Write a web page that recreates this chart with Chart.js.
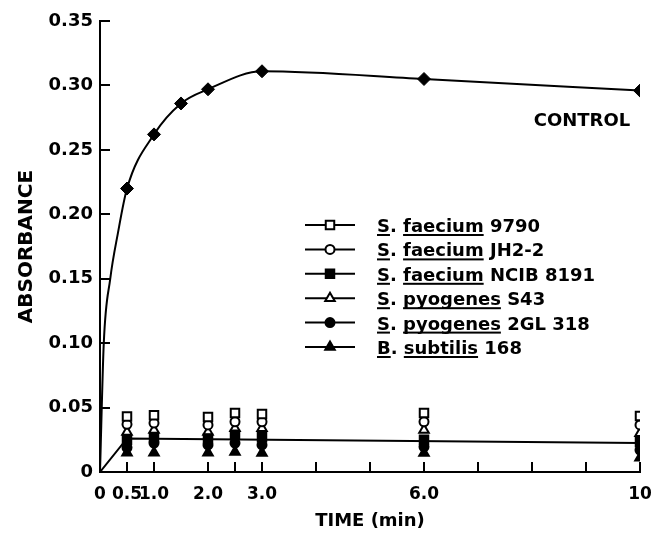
<!DOCTYPE html>
<html>
<head>
<meta charset="utf-8">
<script src="https://cdn.jsdelivr.net/npm/chart.js@4"></script>
<style>
  body { margin: 0; background: #fff; }
  canvas { display: block; }
</style>
</head>
<body>
<canvas id="chart" width="651" height="533"></canvas>
<script>
// control: measured points (diamonds)
const controlT = [0.5, 1.0, 1.5, 2.0, 3.0, 6.0, 10];
const controlA = [0.220, 0.262, 0.286, 0.297, 0.311, 0.305, 0.296];
// control fitted curve
const curveT = [0, 0.07, 0.19, 0.33, 0.5, 1.0, 1.5, 2.0, 3.0, 6.0, 10];
const curveA = [0, 0.100, 0.150, 0.185, 0.220, 0.262, 0.286, 0.297, 0.311, 0.305, 0.296];

// common line through the low group
const lowLineT = [0, 0.5, 10];
const lowLineA = [0, 0.026, 0.0225];

// sampling times of the strains
const strainT = [0.5, 1.0, 2.0, 2.5, 3.0, 6.0, 10];
const faecium9790 = [0.043, 0.044, 0.0427, 0.0458, 0.045, 0.0458, 0.0435];
const faeciumJH22 = [0.037, 0.038, 0.0365, 0.039, 0.039, 0.039, 0.0365];
const pyogenesS43 = [0.031, 0.0326, 0.031, 0.034, 0.034, 0.0326, 0.030];
const faeciumNCIB = [0.025, 0.027, 0.026, 0.029, 0.027, 0.025, 0.023];
const pyogenes2GL = [0.019, 0.0225, 0.021, 0.0225, 0.021, 0.0196, 0.017];
const subtilis168 = [0.015, 0.015, 0.015, 0.0155, 0.0147, 0.0147, 0.011];

// axis ticks
const xTickVals = [0, 0.5, 1, 2, 2.5, 3, 4, 5, 6, 7, 8, 9, 10];
const xTickText = {0: '0', 0.5: '0.5', 1: '1.0', 2: '2.0', 3: '3.0', 6: '6.0', 10: '10'};
const yTickVals = [0, 0.05, 0.10, 0.15, 0.20, 0.25, 0.30, 0.35];

const FONT = '"DejaVu Sans", sans-serif';

// legend rows: genus letter, species, strain, marker
const legendRows = [
  { g: 'S', sp: 'faecium', st: '9790', style: 'rect', fill: false, r: 6 },
  { g: 'S', sp: 'faecium', st: 'JH2-2', style: 'circle', fill: false, r: 4.5 },
  { g: 'S', sp: 'faecium', st: 'NCIB 8191', style: 'rect', fill: true, r: 6 },
  { g: 'S', sp: 'pyogenes', st: 'S43', style: 'triangle', fill: false, r: 5.5 },
  { g: 'S', sp: 'pyogenes', st: '2GL 318', style: 'circle', fill: true, r: 4.5 },
  { g: 'B', sp: 'subtilis', st: '168', style: 'triangle', fill: true, r: 5.5 }
];
const seriesData = [faecium9790, faeciumJH22, faeciumNCIB, pyogenesS43, pyogenes2GL, subtilis168];

function pts(xs, ys) {
  return xs.map((x, i) => ({ x: x, y: ys[i] }));
}

const strainSets = legendRows.map((row, i) => ({
  label: row.g + '. ' + row.sp + ' ' + row.st,
  data: pts(strainT, seriesData[i]),
  showLine: false,
  pointStyle: row.style,
  pointRadius: row.r,
  pointBorderWidth: 2,
  pointBorderColor: '#000',
  pointBackgroundColor: row.fill ? '#000' : '#fff'
}));

// draws the inset legend and the CONTROL label
const notes = {
  id: 'notes',
  afterDraw(chart) {
    const ctx = chart.ctx;
    ctx.save();
    ctx.fillStyle = '#000';
    ctx.strokeStyle = '#000';
    ctx.font = 'bold 18px ' + FONT;
    ctx.textAlign = 'center';
    ctx.textBaseline = 'middle';
    ctx.fillText('CONTROL', 582, 121);

    ctx.textAlign = 'left';
    ctx.textBaseline = 'alphabetic';
    legendRows.forEach((row, i) => {
      const y = 225 + i * 24.4;
      ctx.lineWidth = 2;
      ctx.beginPath();
      ctx.moveTo(305, y);
      ctx.lineTo(355, y);
      ctx.stroke();
      ctx.fillStyle = row.fill ? '#000' : '#fff';
      Chart.helpers.drawPoint(ctx, { pointStyle: row.style, radius: row.r, borderWidth: 2, rotation: 0 }, 330, y);
      ctx.fillStyle = '#000';

      const base = y + 7;
      let x = 377;
      const parts = [
        { t: row.g, u: true }, { t: '. ', u: false },
        { t: row.sp, u: true }, { t: ' ' + row.st, u: false }
      ];
      parts.forEach(p => {
        const w = ctx.measureText(p.t).width;
        ctx.fillText(p.t, x, base);
        if (p.u) ctx.fillRect(x, base + 2, w, 2);
        x += w;
      });
    });
    ctx.restore();
  }
};

new Chart(document.getElementById('chart'), {
  type: 'scatter',
  data: {
    datasets: [
      {
        label: 'control fit',
        data: pts(curveT, curveA),
        showLine: true,
        borderColor: '#000',
        borderWidth: 2,
        pointRadius: 0,
        cubicInterpolationMode: 'monotone'
      },
      {
        label: 'CONTROL',
        data: pts(controlT, controlA),
        showLine: false,
        pointStyle: 'rectRot',
        pointRadius: 6.5,
        pointBorderWidth: 1,
        pointBorderColor: '#000',
        pointBackgroundColor: '#000'
      },
      {
        label: 'strains',
        data: pts(lowLineT, lowLineA),
        showLine: true,
        borderColor: '#000',
        borderWidth: 2,
        pointRadius: 0
      }
    ].concat(strainSets)
  },
  options: {
    responsive: false,
    animation: false,
    layout: { padding: { top: 21, right: 11, left: 0, bottom: 0 } },
    plugins: { legend: { display: false }, tooltip: { enabled: false } },
    scales: {
      x: {
        type: 'linear',
        min: 0,
        max: 10,
        afterBuildTicks: scale => { scale.ticks = xTickVals.map(v => ({ value: v })); },
        afterFit: scale => {
          scale.height = 61;
          scale.paddingLeft = 0;
          scale.paddingRight = 0;
        },
        ticks: {
          autoSkip: false,
          maxRotation: 0,
          padding: 22,
          color: '#000',
          font: { family: FONT, size: 17, weight: 'bold' },
          callback: v => (xTickText[v] !== undefined ? xTickText[v] : '')
        },
        grid: { drawOnChartArea: false, tickLength: -10, color: '#000', lineWidth: 2 },
        border: { color: '#000', width: 2 },
        title: {
          display: true,
          text: 'TIME (min)',
          color: '#000',
          font: { family: FONT, size: 18, weight: 'bold' },
          padding: { top: 0, bottom: 1 }
        }
      },
      y: {
        min: 0,
        max: 0.35,
        afterBuildTicks: scale => { scale.ticks = yTickVals.map(v => ({ value: v })); },
        afterFit: scale => {
          scale.width = 100;
          scale.paddingTop = 0;
          scale.paddingBottom = 0;
        },
        ticks: {
          padding: 17,
          color: '#000',
          font: { family: FONT, size: 18, weight: 'bold' },
          callback: v => (v === 0 ? '0' : v.toFixed(2))
        },
        grid: { drawOnChartArea: false, tickLength: -10, color: '#000', lineWidth: 2 },
        border: { color: '#000', width: 2 },
        title: {
          display: true,
          text: 'ABSORBANCE',
          color: '#000',
          font: { family: FONT, size: 20, weight: 'bold' },
          padding: { top: 15, bottom: 0 }
        }
      }
    }
  },
  plugins: [notes]
});
</script>
</body>
</html>
